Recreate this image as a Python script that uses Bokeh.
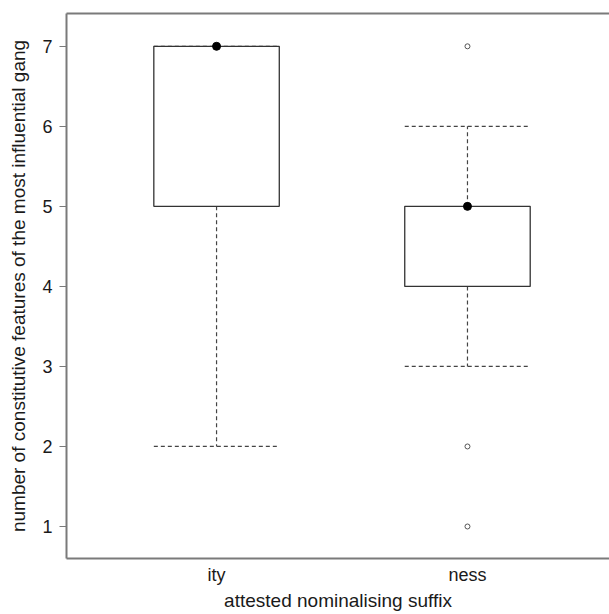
from bokeh.plotting import figure
from bokeh.models import Range1d, FixedTicker, LinearAxis
from bokeh.embed import file_html
from bokeh.resources import INLINE

# Data
categories = ["ity", "ness"]
positions = [1, 2]
q1 = [5, 4]
median = [7, 5]
q3 = [7, 5]
lower_whisker = [2, 3]
upper_whisker = [7, 6]
outlier_pos = [2, 2, 2]
outlier_vals = [7, 2, 1]
y_ticks = [1, 2, 3, 4, 5, 6, 7]

half = 0.25
FONT = "Liberation Sans"
AXIS_COL = "#7a7a7a"
LINE_COL = "#333333"
TXT = "#1a1a1a"

p = figure(width=609, height=614, output_backend="svg", toolbar_location=None,
           x_range=Range1d(0.402, 2.566), y_range=Range1d(0.6, 7.41),
           x_axis_location=None, y_axis_location=None,
           min_border_left=66, min_border_top=13, min_border_bottom=56, min_border_right=0)
p.outline_line_color = None
p.grid.visible = False
p.background_fill_color = "white"
p.border_fill_color = "white"

# left axis
ya = LinearAxis(ticker=FixedTicker(ticks=y_ticks))
ya.axis_label = "number of constitutive features of the most influential gang"
ya.axis_label_text_font = FONT
ya.axis_label_text_font_size = "19px"
ya.axis_label_text_font_style = "normal"
ya.axis_label_text_color = TXT
ya.axis_label_standoff = 10
ya.major_label_text_font = FONT
ya.major_label_text_font_size = "18px"
ya.major_label_text_color = TXT
ya.major_label_standoff = 7
ya.major_tick_out = 7
ya.major_tick_in = 0
ya.minor_tick_line_color = None
ya.axis_line_color = AXIS_COL
ya.axis_line_width = 2
ya.major_tick_line_color = AXIS_COL
ya.major_tick_line_width = 1
p.add_layout(ya, "left")

# bottom axis
xa = LinearAxis(ticker=FixedTicker(ticks=positions),
                major_label_overrides={pos: c for pos, c in zip(positions, categories)})
xa.axis_label = "attested nominalising suffix"
xa.axis_label_text_font = FONT
xa.axis_label_text_font_size = "19px"
xa.axis_label_text_font_style = "normal"
xa.axis_label_text_color = TXT
xa.axis_label_standoff = 2
xa.major_label_text_font = FONT
xa.major_label_text_font_size = "18px"
xa.major_label_text_color = TXT
xa.major_label_standoff = 6
xa.major_tick_out = 0
xa.major_tick_in = 0
xa.major_tick_line_color = None
xa.minor_tick_line_color = None
xa.axis_line_color = AXIS_COL
xa.axis_line_width = 2
p.add_layout(xa, "below")

# top frame line
ta = LinearAxis(ticker=FixedTicker(ticks=[]))
ta.major_label_text_font_size = "0px"
ta.major_tick_out = 0
ta.major_tick_line_color = None
ta.minor_tick_line_color = None
ta.axis_line_color = AXIS_COL
ta.axis_line_width = 2
p.add_layout(ta, "above")

lefts = [x - half for x in positions]
rights = [x + half for x in positions]

# whiskers
p.segment(x0=positions, y0=q1, x1=positions, y1=lower_whisker,
          line_color="#444444", line_width=1.2, line_dash="4 3")
p.segment(x0=positions, y0=q3, x1=positions, y1=upper_whisker,
          line_color="#444444", line_width=1.2, line_dash="4 3")
# staples
p.segment(x0=lefts, y0=lower_whisker, x1=rights, y1=lower_whisker,
          line_color="#444444", line_width=1.2, line_dash="4 3")
p.segment(x0=lefts, y0=upper_whisker, x1=rights, y1=upper_whisker,
          line_color="#444444", line_width=1.2, line_dash="4 3")

# boxes
p.quad(left=lefts, right=rights, bottom=q1, top=q3,
       fill_color="white", fill_alpha=0.0, line_color=LINE_COL, line_width=1.3)

# medians as dots
p.scatter(x=positions, y=median, marker="circle", size=8,
          fill_color="black", line_color="black")

# outliers
p.scatter(x=outlier_pos, y=outlier_vals, marker="circle", size=5,
          fill_color="white", line_color="#555555", line_width=1)

open("out.html", "w").write(file_html(p, INLINE))
